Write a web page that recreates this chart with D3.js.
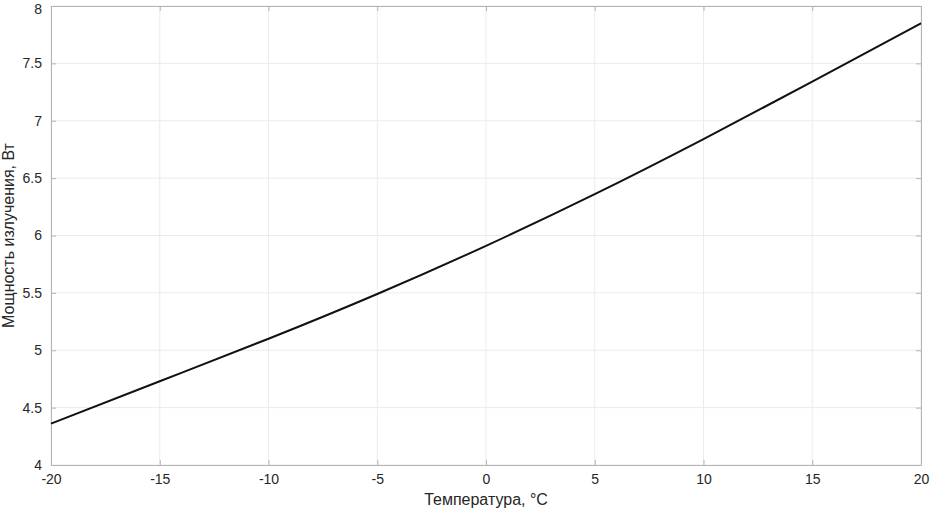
<!DOCTYPE html>
<meta charset="utf-8">
<script src="https://d3js.org/d3.v7.min.js"></script>
<style>
  body { margin: 0; background: #fff; }
  text { font-family: "Liberation Sans", Arial, sans-serif; fill: #262626; }
</style>
<body>
<svg width="932" height="513"></svg>
<script>
    // temperature (deg C) and emitted power (W)
    var temps  = [-20, -15, -10, -5, 0, 5, 10, 15, 20];
    var powers = [4.36, 4.73, 5.10, 5.49, 5.91, 6.36, 6.84, 7.34, 7.85];
    var xTicks = [-20, -15, -10, -5, 0, 5, 10, 15, 20];
    var yTicks = [4, 4.5, 5, 5.5, 6, 6.5, 7, 7.5, 8];

    var margin = {left: 51, right: 11, top: 6, bottom: 48};
    var W = 932, H = 513;
    var svg = d3.select('svg');

    var x = d3.scaleLinear().domain([-20, 20]).range([margin.left, W - margin.right]);
    var y = d3.scaleLinear().domain([4, 8]).range([H - margin.bottom, margin.top]);

    var data = temps.map(function(t, i){ return {t: t, p: powers[i]}; });
    var plain = function(d){ return String(d); }; // plain hyphen minus, like matlab

    // grid
    svg.append('g').selectAll('line').data(xTicks).enter().append('line')
        .attr('x1', d => x(d)).attr('x2', d => x(d))
        .attr('y1', y(4)).attr('y2', y(8))
        .attr('stroke', '#ebebeb').attr('stroke-width', 1);
    svg.append('g').selectAll('line').data(yTicks).enter().append('line')
        .attr('y1', d => y(d)).attr('y2', d => y(d))
        .attr('x1', x(-20)).attr('x2', x(20))
        .attr('stroke', '#ebebeb').attr('stroke-width', 1);

    // axes, ticks pointing inward like matlab
    var axisColor = '#b4b4b4';
    var xb = svg.append('g').attr('transform', 'translate(0,' + y(4) + ')')
        .call(d3.axisBottom(x).tickValues(xTicks).tickFormat(plain).tickSizeInner(-5).tickSizeOuter(0).tickPadding(9));
    var yl = svg.append('g').attr('transform', 'translate(' + x(-20) + ',0)')
        .call(d3.axisLeft(y).tickValues(yTicks).tickFormat(plain).tickSizeInner(-5).tickSizeOuter(0).tickPadding(9));
    var xt = svg.append('g').attr('transform', 'translate(0,' + y(8) + ')')
        .call(d3.axisTop(x).tickValues(xTicks).tickSizeInner(-5).tickSizeOuter(0).tickFormat(''));
    var yr = svg.append('g').attr('transform', 'translate(' + x(20) + ',0)')
        .call(d3.axisRight(y).tickValues(yTicks).tickSizeInner(-5).tickSizeOuter(0).tickFormat(''));

    [xb, yl, xt, yr].forEach(function(g){
        g.selectAll('path, line').attr('stroke', axisColor);
        g.selectAll('text').attr('font-size', '14px').attr('fill', '#262626')
            .style('font-family', '"Liberation Sans", Arial, sans-serif');
    });
    // keep the top label inside the page
    yl.selectAll('.tick').filter(d => d === 8).select('text').attr('dy', '0.5em');

    // curve
    var line = d3.line().x(d => x(d.t)).y(d => y(d.p)).curve(d3.curveNatural);
    svg.append('path').datum(data)
        .attr('d', line)
        .attr('fill', 'none')
        .attr('stroke', '#111')
        .attr('stroke-width', 2);

    // titles
    svg.append('text').attr('x', x(0)).attr('y', 505)
        .attr('text-anchor', 'middle').attr('font-size', '16px')
        .text('Температура, °C');
    svg.append('text')
        .attr('transform', 'translate(14,' + y(6) + ') rotate(-90)')
        .attr('text-anchor', 'middle').attr('font-size', '16px')
        .text('Мощность излучения, Вт');
</script>
</body>
